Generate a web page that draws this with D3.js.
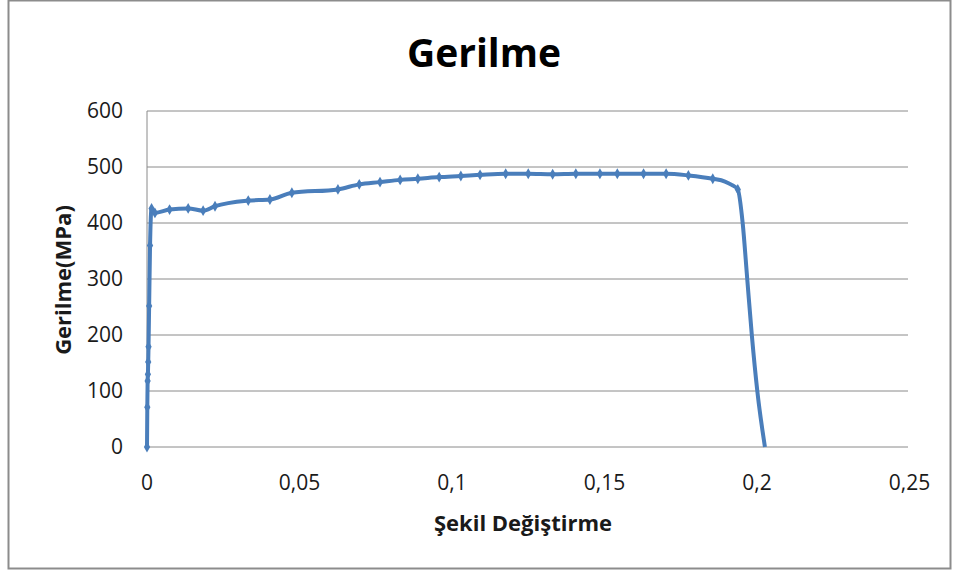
<!DOCTYPE html>
<html>
<head>
<meta charset="utf-8">
<script src="https://cdn.jsdelivr.net/npm/d3@7"></script>
<style>
  body { margin: 0; background: #fff; }
  text { font-family: "Open Sans", sans-serif; }
</style>
</head>
<body>
<div id="chart"></div>
<script>
// data (strain, stress in MPa)
const strain = [0, 0.0001, 0.0002, 0.0003, 0.0004, 0.0005, 0.0007, 0.0010, 0.0015, 0.0026,
                0.0074, 0.0135, 0.0184, 0.0223, 0.0332, 0.0403, 0.0475, 0.0626, 0.0696, 0.0764,
                0.0830, 0.0888, 0.0958, 0.1029, 0.1092, 0.1176, 0.1250, 0.1330, 0.1406, 0.1485,
                0.1542, 0.1628, 0.1702, 0.1775, 0.1855, 0.1895, 0.1917, 0.1937, 0.1953, 0.1968,
                0.1983, 0.2001, 0.2026]
const stress = [0, 71, 118, 130, 152, 179, 252, 360, 426, 418,
                424, 426, 422, 430, 440, 442, 454, 460, 469, 473,
                477, 479, 482, 484, 486, 488, 488, 487, 488, 488,
                488, 488, 488, 485, 479, 474, 468, 460, 400, 300,
                200, 100, 0]
// 1 = point drawn with a marker in the original
const marked = [1, 1, 1, 1, 1, 1, 1, 1, 1, 1,
                1, 1, 1, 1, 1, 1, 1, 1, 1, 1,
                1, 1, 1, 1, 1, 1, 1, 1, 1, 1,
                1, 1, 1, 1, 1, 0, 0, 1, 0, 0,
                0, 0, 0]
const xTicks = [0, 0.05, 0.1, 0.15, 0.2, 0.25]
const yTicks = [0, 100, 200, 300, 400, 500, 600]

const title = "Gerilme"
const xTitle = "Şekil Değiştirme"
const yTitle = "Gerilme(MPa)"

const W = 958, H = 571
const mLeft = 147, mRight = 909.5, mTop = 111, mBottom = 447

const svg = d3.select("#chart").append("svg")
    .attr("width", W).attr("height", H)

// outer frame
svg.append("rect")
    .attr("x", 8.5).attr("y", 0.5)
    .attr("width", 942).attr("height", 568)
    .attr("fill", "#fff")
    .attr("stroke", "#8c8c8c")
    .attr("stroke-width", 2)

const x = d3.scaleLinear().domain([0, 0.25]).range([mLeft, mRight])
const y = d3.scaleLinear().domain([0, 600]).range([mBottom, mTop])

const fmt = d => String(d).replace(".", ",")

// gridlines
svg.append("g").selectAll("line")
    .data(yTicks)
    .join("line")
    .attr("x1", mLeft).attr("x2", mRight - 1.5)
    .attr("y1", d => y(d)).attr("y2", d => y(d))
    .attr("stroke", "#8a8a8a")
    .attr("stroke-width", 1)

// left axis line
svg.append("line")
    .attr("x1", mLeft).attr("x2", mLeft)
    .attr("y1", mTop).attr("y2", mBottom)
    .attr("stroke", "#8a8a8a")

// y tick labels
svg.append("g").selectAll("text")
    .data(yTicks)
    .join("text")
    .attr("x", 123)
    .attr("y", d => y(d))
    .attr("dy", "0.35em")
    .attr("text-anchor", "end")
    .attr("font-size", 21)
    .attr("fill", "#1a1a1a")
    .text(d => d)

// x tick labels
svg.append("g").selectAll("text")
    .data(xTicks)
    .join("text")
    .attr("x", d => x(d))
    .attr("y", 483)
    .attr("dy", "0.35em")
    .attr("text-anchor", "middle")
    .attr("font-size", 21)
    .attr("fill", "#1a1a1a")
    .text(d => fmt(d))

// data line
const pts = strain.map((s, i) => [s, stress[i], marked[i]])
const line = d3.line()
    .x(d => x(d[0]))
    .y(d => y(d[1]))
    .curve(d3.curveMonotoneX)

svg.append("path")
    .datum(pts)
    .attr("d", line)
    .attr("fill", "none")
    .attr("stroke", "#4a7ebb")
    .attr("stroke-width", 4)
    .attr("stroke-linejoin", "round")

// markers
svg.append("g").selectAll("path")
    .data(pts.filter(d => d[2]))
    .join("path")
    .attr("transform", d => "translate(" + x(d[0]) + "," + y(d[1]) + ")")
    .attr("d", d3.symbol().type(d3.symbolDiamond).size(34))
    .attr("fill", "#4a7ebb")

// title
svg.append("text")
    .attr("x", 484)
    .attr("y", 67)
    .attr("text-anchor", "middle")
    .attr("font-size", 39)
    .attr("font-weight", "bold")
    .attr("fill", "#000")
    .text(title)

// axis titles
svg.append("text")
    .attr("x", 523)
    .attr("y", 531)
    .attr("text-anchor", "middle")
    .attr("font-size", 22)
    .attr("font-weight", "bold")
    .attr("fill", "#1a1a1a")
    .text(xTitle)

svg.append("text")
    .attr("transform", "translate(71,280) rotate(-90)")
    .attr("text-anchor", "middle")
    .attr("font-size", 22)
    .attr("font-weight", "bold")
    .attr("fill", "#1a1a1a")
    .text(yTitle)
</script>
</body>
</html>
